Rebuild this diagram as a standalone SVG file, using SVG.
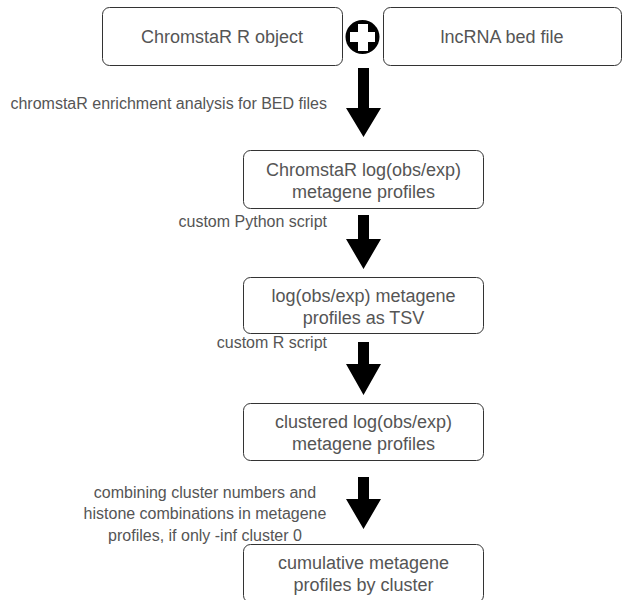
<svg xmlns="http://www.w3.org/2000/svg" width="623" height="600" viewBox="0 0 623 600">
<style>
.box{fill:#fff;stroke:#333;stroke-width:1}
.t{font-family:"Liberation Sans",Arial,Helvetica,sans-serif;font-size:18px;fill:#555;text-anchor:middle}
.l{font-family:"Liberation Sans",Arial,Helvetica,sans-serif;font-size:16px;fill:#555}
.arr{fill:#000}
</style>
<g id="n1"><rect class="box" x="102.5" y="7.5" width="240" height="58" rx="7"/><text class="t" x="222" y="43">ChromstaR R object</text></g>
<g id="n2"><rect class="box" x="383.5" y="7.5" width="238" height="58" rx="7"/><text class="t" x="502" y="43">lncRNA bed file</text></g>
<g id="plus"><circle cx="362.5" cy="37" r="17" fill="#000"/><path d="M358,24 H368 V32 H375 V42 H368 V51 H358 V42 H350 V32 H358 Z" fill="#fff"/></g>
<g id="n3"><rect class="box" x="243.5" y="150.5" width="240" height="58" rx="7"/><text class="t" x="363.5" y="176">ChromstaR log(obs/exp)</text><text class="t" x="363.5" y="198">metagene profiles</text></g>
<g id="n4"><rect class="box" x="243.5" y="277.5" width="240" height="56" rx="7"/><text class="t" x="363.5" y="302">log(obs/exp) metagene</text><text class="t" x="363.5" y="324">profiles as TSV</text></g>
<g id="n5"><rect class="box" x="243.5" y="403.5" width="240" height="57" rx="7"/><text class="t" x="363.5" y="428">clustered log(obs/exp)</text><text class="t" x="363.5" y="450">metagene profiles</text></g>
<g id="n6"><rect class="box" x="243.5" y="544.5" width="240" height="58" rx="7"/><text class="t" x="363.5" y="569">cumulative metagene</text><text class="t" x="363.5" y="591">profiles by cluster</text></g>
<g id="connectors">
<path class="arr" d="M358,68 H369 V108 H381 L363.5,137 L346,108 H358 Z"/>
<path class="arr" d="M358,215 H369 V239 H381 L363.5,269 L346,239 H358 Z"/>
<path class="arr" d="M358,342 H369 V364 H381 L363.5,395 L346,364 H358 Z"/>
<path class="arr" d="M358,477 H369 V499 H381 L363.5,529 L346,499 H358 Z"/>
<text class="l" x="327" y="109" text-anchor="end">chromstaR enrichment analysis for BED files</text>
<text class="l" x="327" y="227" text-anchor="end">custom Python script</text>
<text class="l" x="327" y="348" text-anchor="end">custom R script</text>
<text class="l" x="205" y="498" text-anchor="middle">combining cluster numbers and</text>
<text class="l" x="205" y="519" text-anchor="middle">histone combinations in metagene</text>
<text class="l" x="205" y="541" text-anchor="middle">profiles, if only -inf cluster 0</text>
</g>
</svg>
